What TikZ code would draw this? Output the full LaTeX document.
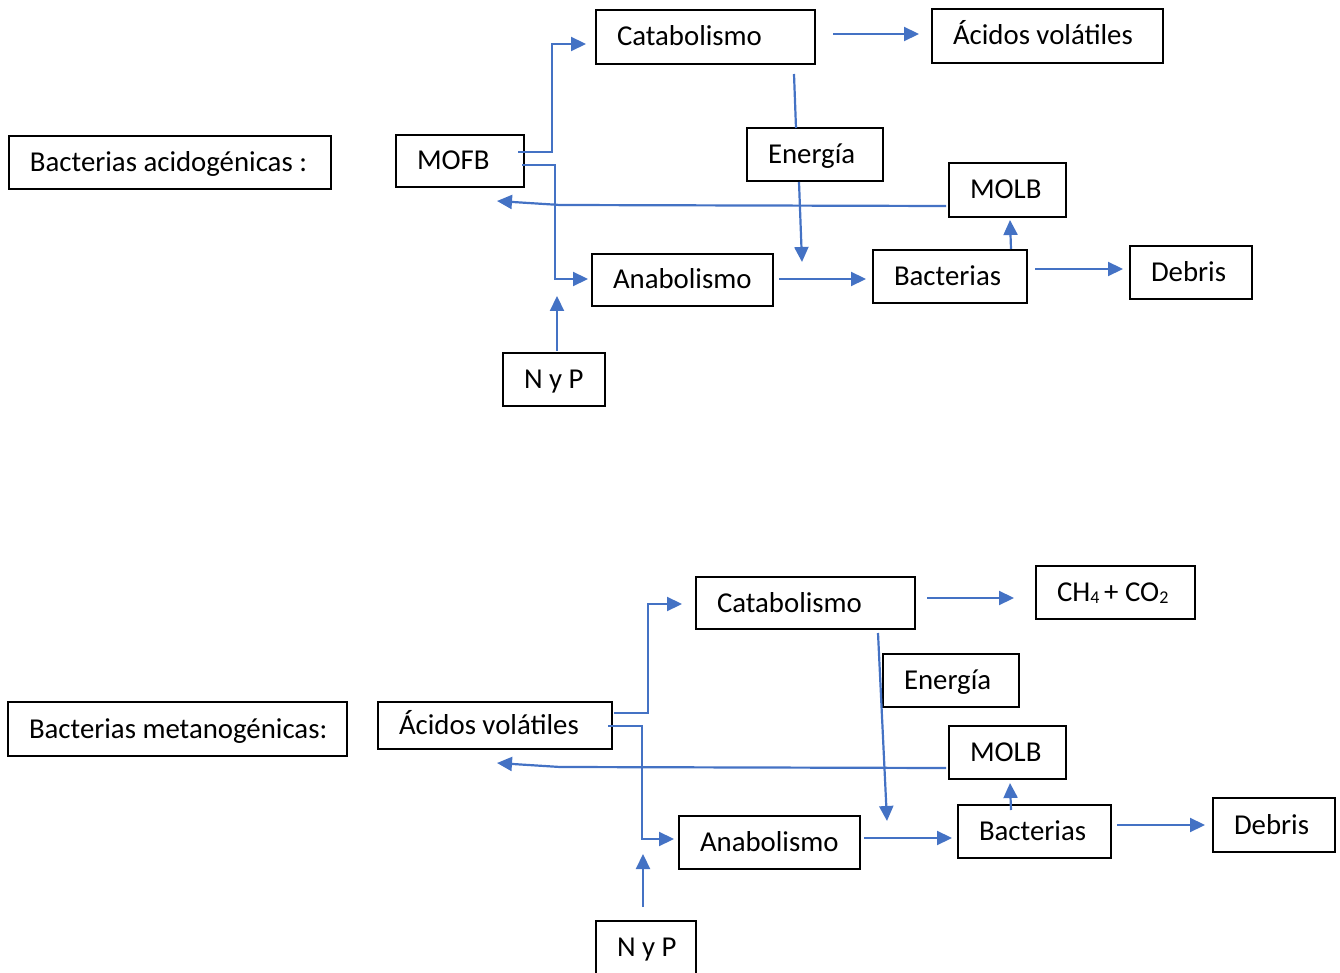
\documentclass[tikz,border=0pt]{standalone}
\usepackage{fontspec}
\setmainfont{Carlito}
\usetikzlibrary{arrows.meta}
\definecolor{flow}{HTML}{4472C4}
\tikzset{
  box/.style={draw=black, line width=1pt, anchor=north west, outer sep=0pt,
    inner xsep=0pt, inner ysep=0pt, align=left, text height=9pt, text depth=0pt,
    font=\fontsize{14.4}{16}\selectfont},
  link/.style={draw=flow, line width=1.1pt, -{Triangle[length=7.5pt,width=7pt]}},
  wire/.style={draw=flow, line width=1.1pt},
}
% \bx{name}{left}{top}{width pt}{height pt}{text}
\newcommand\bx[6]{\node[box, text width=#4pt, minimum height=#5pt] (#1) at (#2,#3)
  {\spaceskip=0.226em\relax\hspace*{10.5pt}\mbox{#6}};}
\newcommand\subnum[1]{{\fontsize{9}{9}\selectfont\raisebox{-1.2pt}{#1}}}
\begin{document}
\begin{tikzpicture}[x=0.5pt,y=-0.5pt]
\useasboundingbox (0,0) rectangle (1340,973);

% ---- acidogenic stage ----
\bx{acid}{9}{136}{161}{26.5}{Bacterias acidogénicas :}
\bx{mofb}{396}{135}{64}{26}{MOFB}
\bx{catA}{596}{10}{109.5}{27}{Catabolismo}
\bx{avA}{932}{9}{115.5}{27}{Ácidos volátiles}
\bx{enA}{747}{128}{68}{26.5}{Energía}
\bx{molbA}{949}{163}{58.5}{27}{MOLB}
\bx{anaA}{592}{254}{90.5}{26}{Anabolismo}
\bx{bacA}{873}{250}{77}{26.5}{Bacterias}
\bx{debA}{1130}{246}{61}{26.5}{Debris}
\bx{nypA}{503}{353}{51}{26.5}{N y P}

% connector end points
\coordinate (a1s) at (518,152);  \coordinate (a1e) at (586,44);
\coordinate (a2s) at (522,165);  \coordinate (a2e) at (588,279);
\coordinate (a3s) at (833,34);   \coordinate (a3e) at (919,34);
\coordinate (a4s) at (794,74);   \coordinate (a4e) at (796,128);
\coordinate (a5s) at (799,182);  \coordinate (a5e) at (802,262);
\coordinate (a6s) at (946,206);  \coordinate (a6m) at (560,205); \coordinate (a6e) at (497,201);
\coordinate (a7s) at (779,279);  \coordinate (a7e) at (866,279);
\coordinate (a8s) at (1011,249); \coordinate (a8e) at (1010,220);
\coordinate (a9s) at (1035,269); \coordinate (a9e) at (1123,269);
\coordinate (a10s) at (557,351); \coordinate (a10e) at (557,296);

\draw[link] (a1s) -- (552,152) -- (552,44) -- (a1e);
\draw[link] (a2s) -- (555,165) -- (555,279) -- (a2e);
\draw[link] (a3s) -- (a3e);
\draw[wire] (a4s) -- (a4e);
\draw[link] (a5s) -- (a5e);
\draw[link] (a6s) -- (a6m) -- (a6e);
\draw[link] (a7s) -- (a7e);
\draw[link] (a8s) -- (a8e);
\draw[link] (a9s) -- (a9e);
\draw[link] (a10s) -- (a10e);

% ---- methanogenic stage ----
\bx{meta}{8}{702}{169.5}{27}{Bacterias metanogénicas:}
\bx{avB}{378}{702}{117}{23.5}{Ácidos volátiles}
\bx{catB}{696}{577}{109.5}{26}{Catabolismo}
\bx{gas}{1036}{566}{79.5}{26.5}{CH\subnum{4}\,+ CO\subnum{2}}
\bx{enB}{883}{654}{68}{26.5}{Energía}
\bx{molbB}{949}{726}{58.5}{26.5}{MOLB}
\bx{anaB}{679}{816}{90.5}{26.5}{Anabolismo}
\bx{bacB}{958}{805}{76.5}{26.5}{Bacterias}
\bx{debB}{1213}{798}{61}{27}{Debris}
\bx{nypB}{596}{921}{50}{26.5}{N y P}

\coordinate (b1s) at (614,713);  \coordinate (b1e) at (682,604);
\coordinate (b2s) at (608,726);  \coordinate (b2e) at (674,839);
\coordinate (b3s) at (927,598);  \coordinate (b3e) at (1014,598);
\coordinate (b4s) at (878,633);  \coordinate (b4e) at (887,821);
\coordinate (b5s) at (946,768);  \coordinate (b5m) at (560,767); \coordinate (b5e) at (497,763);
\coordinate (b6s) at (864,838);  \coordinate (b6e) at (952,838);
\coordinate (b7s) at (1011,810); \coordinate (b7e) at (1010,783);
\coordinate (b8s) at (1117,825); \coordinate (b8e) at (1205,825);
\coordinate (b9s) at (643,907);  \coordinate (b9e) at (643,854);

\draw[link] (b1s) -- (648,713) -- (648,604) -- (b1e);
\draw[link] (b2s) -- (642,726) -- (642,839) -- (b2e);
\draw[link] (b3s) -- (b3e);
\draw[link] (b4s) -- (b4e);
\draw[link] (b5s) -- (b5m) -- (b5e);
\draw[link] (b6s) -- (b6e);
\draw[link] (b7s) -- (b7e);
\draw[link] (b8s) -- (b8e);
\draw[link] (b9s) -- (b9e);
\end{tikzpicture}
\end{document}
